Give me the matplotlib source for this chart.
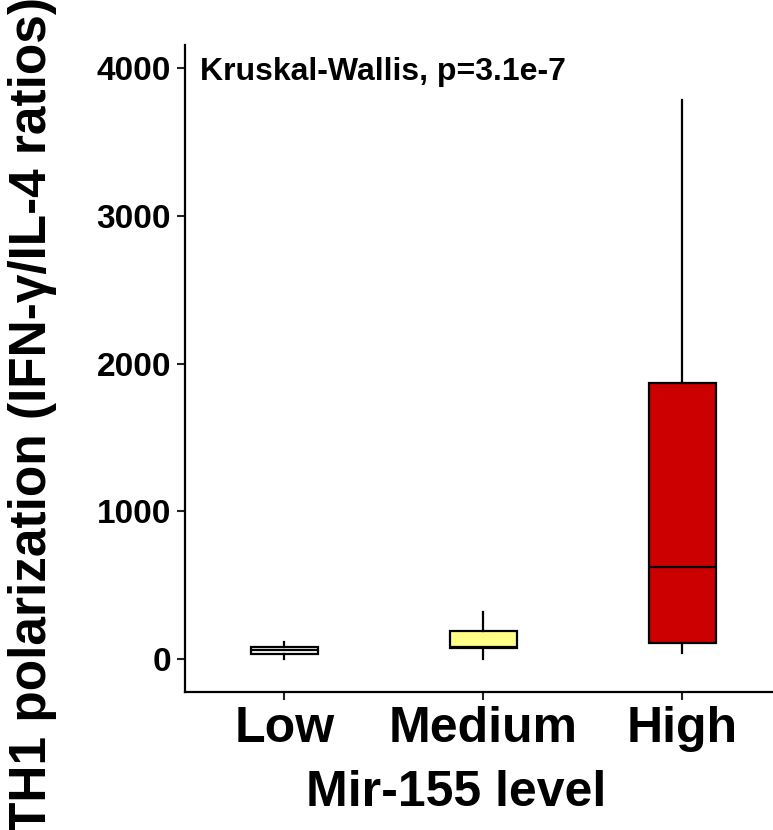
import matplotlib
matplotlib.use("Agg")
import matplotlib.pyplot as plt

# Mir-155 groups and their box statistics
groups = ["Low", "Medium", "High"]
whislo = [0, 0, 40]
q1 = [34, 76, 108]
med = [60, 80, 623]
q3 = [83, 192, 1868]
whishi = [117, 320, 3783]
colors = ["#FFFFFF", "#FFFF88", "#CC0000"]

plt.rcParams['font.family'] = ['Liberation Sans', 'DejaVu Sans']

fig = plt.figure(figsize=(7.73, 8.30), dpi=100)
ax = fig.add_axes([0.2393, 0.1663, 0.7723, 0.7795])

stats = []
for i, g in enumerate(groups):
    stats.append({"label": g, "whislo": whislo[i], "q1": q1[i], "med": med[i],
                  "q3": q3[i], "whishi": whishi[i], "fliers": []})

bp = ax.bxp(stats, positions=[1, 2, 3], widths=0.34, patch_artist=True,
            showcaps=False,
            boxprops=dict(linewidth=1.6, edgecolor="black"),
            whiskerprops=dict(linewidth=1.6, color="black"),
            medianprops=dict(linewidth=1.6, color="black"))
for patch, c in zip(bp["boxes"], colors):
    patch.set_facecolor(c)

ax.set_xlim(0.5, 3.5)
ax.set_ylim(-223, 4156)
ax.set_yticks([0, 1000, 2000, 3000, 4000])
ax.set_xticks([1, 2, 3])
ax.set_xticklabels(groups, fontsize=36, fontweight="bold")
for lab in ax.get_yticklabels():
    lab.set_fontsize(24)
    lab.set_fontweight("bold")
ax.tick_params(axis="both", length=6, width=1.5, color="#222222", pad=4)

for s in ["top", "right"]:
    ax.spines[s].set_visible(False)
for s in ["left", "bottom"]:
    ax.spines[s].set_linewidth(1.6)

ax.text(0.575, 3970, "Kruskal-Wallis, p=3.1e-7", fontsize=23, fontweight="bold",
        ha="left", va="center")

ax.set_xlabel("Mir-155 level", fontsize=36, fontweight="bold")
ax.xaxis.set_label_coords((456 - 185) / 597, -0.12)
fig.text(0.042, 0.5, "TH1 polarization (IFN-γ/IL-4 ratios)", fontsize=37,
         fontweight="bold", rotation=90, ha="center", va="center")

fig.savefig("out.png", dpi=100)
